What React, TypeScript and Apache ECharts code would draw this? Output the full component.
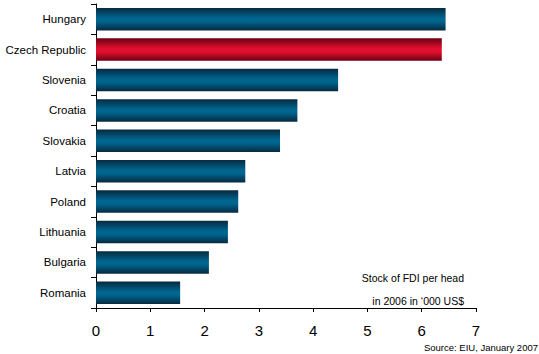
import React, { useEffect, useRef } from "react";
import * as echarts from "echarts";

const countries = ["Hungary", "Czech Republic", "Slovenia", "Croatia", "Slovakia", "Latvia", "Poland", "Lithuania", "Bulgaria", "Romania"];
const values = [6.44, 6.37, 4.46, 3.71, 3.39, 2.75, 2.62, 2.43, 2.08, 1.55];
const highlight = "Czech Republic";
const xTicks = [0, 1, 2, 3, 4, 5, 6, 7];

const FONT = '"Liberation Sans Narrow", "Arial Narrow", "Liberation Sans", Arial, sans-serif';

function grad(edge: string, mid: string) {
  return new echarts.graphic.LinearGradient(0, 0, 0, 1, [
    { offset: 0, color: edge },
    { offset: 0.45, color: mid },
    { offset: 0.6, color: mid },
    { offset: 1, color: edge },
  ]);
}

export default function App() {
  const ref = useRef<HTMLDivElement>(null);
  useEffect(() => {
    const chart = echarts.init(ref.current!, undefined, { renderer: "svg" });
    chart.setOption({
      animation: false,
      backgroundColor: "#ffffff",
      grid: { left: 96, right: 63, top: 4, bottom: 46, containLabel: false, outerBoundsMode: "none" },
      xAxis: {
        type: "value",
        min: xTicks[0],
        max: xTicks[xTicks.length - 1],
        interval: 1,
        axisLine: { show: true, lineStyle: { color: "#000", width: 1 } },
        axisTick: { show: true, length: 4, lineStyle: { color: "#000" } },
        splitLine: { show: false },
        axisLabel: { color: "#000", fontFamily: FONT, fontSize: 15, margin: 15 },
      },
      yAxis: {
        type: "category",
        data: countries,
        inverse: true,
        axisLine: { show: true, lineStyle: { color: "#000", width: 1 } },
        axisTick: { show: true, length: 5, inside: false, lineStyle: { color: "#000" } },
        axisLabel: { color: "#000", fontFamily: FONT, fontSize: 11.5, margin: 10 },
      },
      series: [
        {
          type: "bar",
          barWidth: "74%",
          data: values.map((v, i) => ({
            value: v,
            itemStyle: {
              color: countries[i] === highlight ? grad("#6a0012", "#e2102f") : grad("#062a40", "#00658f"),
            },
          })),
        },
      ],
      graphic: [
        { type: "text", right: 75, top: 272, style: { text: "Stock of FDI per head", fontFamily: FONT, fontSize: 10.5, fill: "#000", textAlign: "right" } },
        { type: "text", right: 75, top: 295, style: { text: "in 2006 in \u2018000 US$", fontFamily: FONT, fontSize: 10.5, fill: "#000", textAlign: "right" } },
        { type: "text", right: 1, top: 342, style: { text: "Source: EIU, January 2007", fontFamily: FONT, fontSize: 9.5, fill: "#000", textAlign: "right" } },
      ],
    });
    return () => chart.dispose();
  }, []);
  return <div ref={ref} style={{ position: "fixed", left: 0, top: 0, width: 539, height: 354 }} />;
}
